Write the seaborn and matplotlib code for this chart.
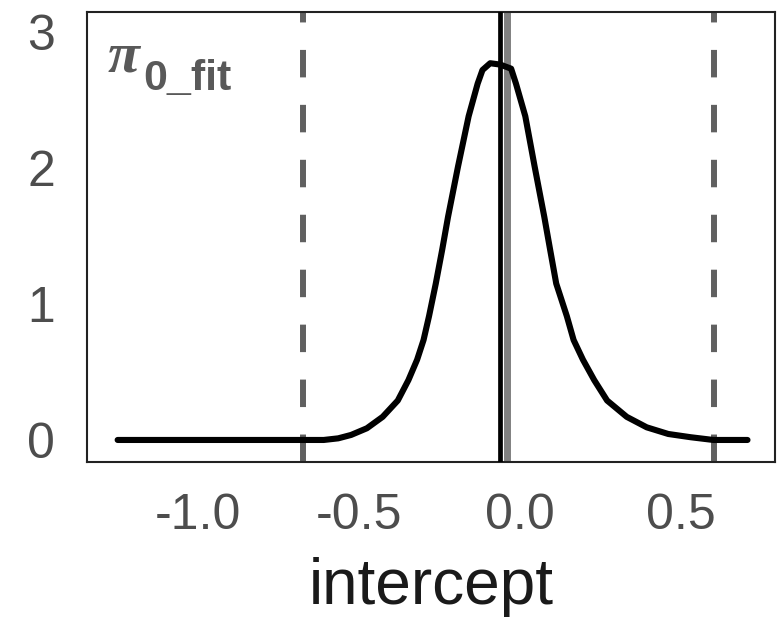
import numpy as np
import pandas as pd
import matplotlib.pyplot as plt
import seaborn as sns

# density of the intercept
intercept = [-1.25, -0.61, -0.565, -0.525, -0.476, -0.427, -0.38, -0.347, -0.32,
             -0.30, -0.283, -0.262, -0.242, -0.224, -0.193, -0.160, -0.132, -0.117,
             -0.093, -0.062, -0.028, -0.013, 0.016, 0.045, 0.075, 0.093, 0.112,
             0.145, 0.166, 0.195, 0.23, 0.27, 0.331, 0.393, 0.46, 0.53, 0.60, 0.706]
density = [0, 0, 0.012, 0.037, 0.086, 0.17, 0.29, 0.44, 0.59,
           0.735, 0.91, 1.15, 1.40, 1.64, 2.01, 2.38, 2.62, 2.72,
           2.77, 2.76, 2.73, 2.62, 2.38, 2.01, 1.64, 1.40, 1.15,
           0.91, 0.735, 0.59, 0.44, 0.29, 0.17, 0.093, 0.044, 0.02, 0, 0]

# interval bounds (dashed), estimate (black) and fit (grey)
ci_bounds = [-0.673, 0.602]
estimate = -0.062
fit_value = -0.040

x_ticks = [-1.0, -0.5, 0.0, 0.5]
y_ticks = [0, 1, 2, 3]

dens = pd.DataFrame({'intercept': intercept, 'density': density})

sns.set_style('white')
plt.rcParams['font.family'] = ['Liberation Sans', 'DejaVu Sans']

fig = plt.figure(figsize=(7.82, 6.29), dpi=100)
ax = fig.add_axes([0.1113, 0.2655, 0.880, 0.7155])

for b in ci_bounds:
    ax.axvline(b, color='#606060', lw=4.3, linestyle=(0, (4.6, 4.6)), zorder=1)
ax.axvline(fit_value, color='#808080', lw=5.0, zorder=2)
ax.axvline(estimate, color='black', lw=3.4, zorder=3)

sns.lineplot(data=dens, x='intercept', y='density', color='black',
             lw=4.4, ax=ax, zorder=4)
for l in ax.lines:
    l.set_solid_joinstyle('round')
    l.set_solid_capstyle('round')

ax.set_xlim(-1.345, 0.792)
ax.set_ylim(-0.162, 3.147)
ax.set_xticks(x_ticks)
ax.set_xticklabels(['-1.0', '-0.5', '0.0', '0.5'])
ax.set_yticks(y_ticks)

for s in ax.spines.values():
    s.set_color('#222222')
    s.set_linewidth(1.5)

ax.tick_params(axis='both', direction='out', length=10, width=1.4,
               color='#333333', labelcolor='#4D4D4D', labelsize=36)
ax.tick_params(axis='x', pad=12)
ax.tick_params(axis='y', pad=13)
ax.set_xlabel('intercept', fontsize=46, color='#1a1a1a', labelpad=13)
ax.set_ylabel('')

ax.text(0.0305, 0.867, 'π', transform=ax.transAxes, fontsize=42,
        family=['Liberation Serif', 'DejaVu Serif'], style='italic',
        fontweight='bold', color='#595959', ha='left', va='baseline')
ax.text(0.0814, 0.827, '0_fit', transform=ax.transAxes, fontsize=31,
        fontweight='bold', color='#595959', ha='left', va='baseline')

fig.savefig('out.png', dpi=100)
